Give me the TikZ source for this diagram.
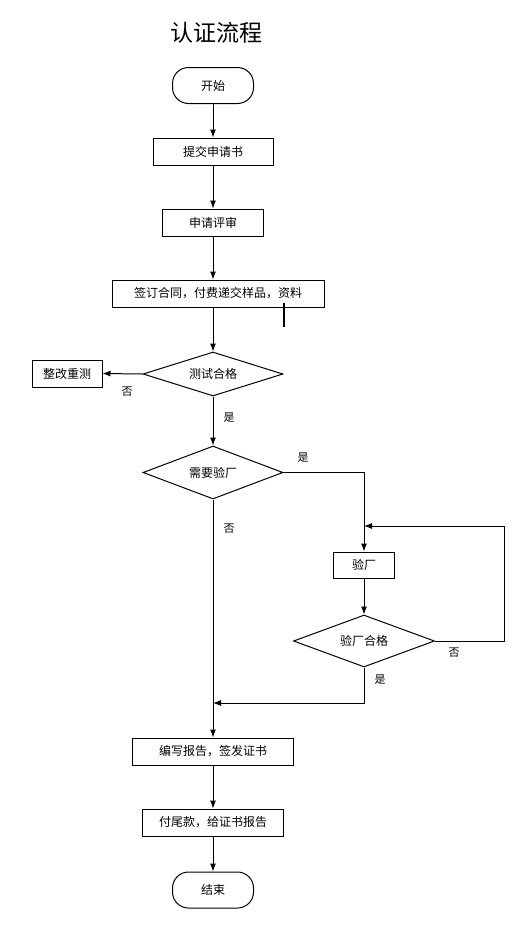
\documentclass[tikz,border=0pt]{standalone}
\usepackage{fontspec}
\newfontfamily\cjk{Noto Sans CJK SC}
\usetikzlibrary{shapes.geometric,arrows.meta}
\begin{document}
\begin{tikzpicture}[x=1pt,y=-1pt,
  every node/.style={font=\cjk\fontsize{12}{14}\selectfont, inner sep=0pt},
  proc/.style={draw, line width=1pt, rectangle},
  term/.style={draw, line width=1pt, rectangle, rounded corners=16pt, minimum width=81pt, minimum height=36pt},
  dec/.style={draw, line width=1pt, diamond, aspect=2.8},
  lbl/.style={font=\cjk\fontsize{11}{13}\selectfont},
  conn/.style={line width=1pt, -{Latex[length=8pt,width=6pt]}},
  line/.style={line width=1pt}]
\useasboundingbox (0,0) rectangle (532,927);
\node[font=\cjk\fontsize{23}{26}\selectfont] (title) at (216,33) {认证流程};
\node[term] (start) at (213,85.5) {开始};
\node[proc, minimum width=120pt, minimum height=27pt] (b1) at (213,151.5) {提交申请书};
\node[proc, minimum width=101pt, minimum height=27pt] (b2) at (213,222.5) {申请评审};
\node[proc, minimum width=212pt, minimum height=27pt] (b3) at (218,293.5) {签订合同，付费递交样品，资料};
\node[dec, minimum width=140pt, minimum height=44pt] (d1) at (213,374) {测试合格};
\node[proc, minimum width=70pt, minimum height=27pt] (rework) at (67,373.5) {整改重测};
\node[dec, minimum width=140pt, minimum height=53pt] (d2) at (213,472.5) {需要验厂};
\node[proc, minimum width=61pt, minimum height=26pt] (factory) at (364,565) {验厂};
\node[dec, minimum width=141pt, minimum height=52pt] (d3) at (364,641) {验厂合格};
\node[proc, minimum width=161pt, minimum height=27pt] (b4) at (213,751.5) {编写报告，签发证书};
\node[proc, minimum width=141pt, minimum height=27pt] (b5) at (213,822.5) {付尾款，给证书报告};
\node[term] (end) at (213,890) {结束};
% labels
\node[lbl] (l1) at (127,392) {否};
\node[lbl] (l2) at (229,418) {是};
\node[lbl] (l3) at (303,458) {是};
\node[lbl] (l4) at (229,529) {否};
\node[lbl] (l5) at (454,653) {否};
\node[lbl] (l6) at (380,680) {是};
% coordinates
\coordinate (loopA) at (504,641);
\coordinate (loopB) at (504,526);
\coordinate (loopC) at (364,526);
\coordinate (merge) at (213,703);
\coordinate (cur1) at (284,303);
\coordinate (cur2) at (284,327);
% connectors
\draw[conn] (start) -- (b1);
\draw[conn] (b1) -- (b2);
\draw[conn] (b2.south) -- (b2.south |- b3.north);
\draw[conn] (d1.north |- b3.south) -- (d1.north);
\draw[conn] (d1.west) -- (rework.east);
\draw[conn] (d1.south) -- (d2.north);
\draw[conn] (d2.east) -| (factory.north);
\draw[conn] (factory.south) -- (d3.north);
\draw[conn] (d3.east) -- (loopA) -- (loopB) -- (loopC);
\draw[conn] (d2.south) -- (b4.north);
\draw[conn] (d3.south) |- (merge);
\draw[conn] (b4.south) -- (b5.north);
\draw[conn] (b5.south) -- (end.north);
\draw[line width=2pt] (cur1) -- (cur2);
\end{tikzpicture}
\end{document}
